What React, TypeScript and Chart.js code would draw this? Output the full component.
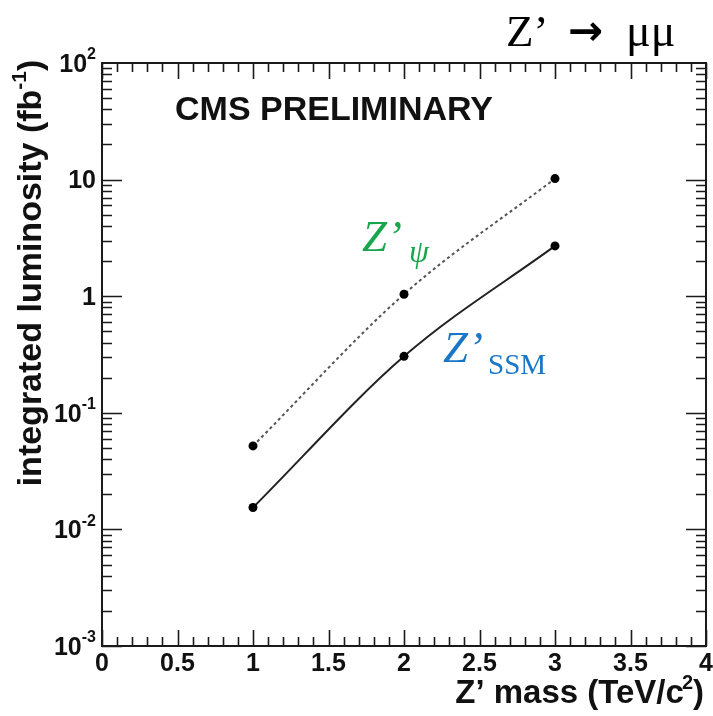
import React, { useEffect, useRef } from 'react';
import { Chart, registerables } from 'chart.js';

Chart.register(...registerables);

// Data
const massPoints = [1, 2, 3]; // TeV/c^2
const zPsiLumi = [0.052, 1.04, 10.2]; // fb^-1
const zSsmLumi = [0.0154, 0.305, 2.7]; // fb^-1

const xTickValues = [0, 0.5, 1, 1.5, 2, 2.5, 3, 3.5, 4];
const xTickLabels = ['0', '0.5', '1', '1.5', '2', '2.5', '3', '3.5', '4'];
const yDecadeExps = [-3, -2, -1, 0, 1, 2];
const yDecadeLabels: [string, string][] = [
  ['10', '-3'],
  ['10', '-2'],
  ['10', '-1'],
  ['1', ''],
  ['10', ''],
  ['10', '2'],
];

const SANS = '"Liberation Sans", Arial, Helvetica, sans-serif';
const SERIF = '"Liberation Serif", "Times New Roman", serif';

const framePlugin = {
  id: 'rootFrame',
  afterDraw(chart: any) {
    const ctx: CanvasRenderingContext2D = chart.ctx;
    const { left, right, top, bottom } = chart.chartArea;
    const xs = chart.scales.x;
    const ys = chart.scales.y;
    ctx.save();
    ctx.strokeStyle = '#1a1a1a';
    ctx.lineWidth = 2;
    ctx.strokeRect(left, top, right - left, bottom - top);

    // x ticks (bottom + mirrored top)
    ctx.lineWidth = 1.6;
    ctx.beginPath();
    for (let i = 0; i <= 40; i++) {
      const v = i / 10;
      const px = Math.round(xs.getPixelForValue(v)) + 0.5;
      const len = i % 5 === 0 ? 16 : 9;
      ctx.moveTo(px, bottom);
      ctx.lineTo(px, bottom - len);
      ctx.moveTo(px, top);
      ctx.lineTo(px, top + len);
    }
    // y ticks (left + mirrored right)
    for (let d = -3; d <= 1; d++) {
      for (let m = 1; m <= 9; m++) {
        const v = m * Math.pow(10, d);
        const py = Math.round(ys.getPixelForValue(v)) + 0.5;
        const len = m === 1 ? 20 : 10;
        ctx.moveTo(left, py);
        ctx.lineTo(left + len, py);
        ctx.moveTo(right, py);
        ctx.lineTo(right - len, py);
      }
    }
    ctx.stroke();

    // x tick labels
    ctx.fillStyle = '#111';
    ctx.font = `bold 25px ${SANS}`;
    ctx.textAlign = 'center';
    ctx.textBaseline = 'top';
    xTickValues.forEach((v, i) => {
      ctx.fillText(xTickLabels[i], xs.getPixelForValue(v), bottom + 6);
    });

    // y tick labels with superscripts
    ctx.textBaseline = 'middle';
    yDecadeExps.forEach((e, i) => {
      const py = ys.getPixelForValue(Math.pow(10, e));
      const [base, sup] = yDecadeLabels[i];
      const xr = left - 6;
      ctx.font = `bold 16px ${SANS}`;
      const sw = sup ? ctx.measureText(sup).width : 0;
      ctx.textAlign = 'right';
      ctx.font = `bold 25px ${SANS}`;
      ctx.fillText(base, xr - sw, py + 2);
      if (sup) {
        ctx.font = `bold 16px ${SANS}`;
        ctx.textAlign = 'left';
        ctx.fillText(sup, xr - sw, py - 8);
      }
    });

    // x axis title
    ctx.textAlign = 'left';
    ctx.textBaseline = 'alphabetic';
    const xt1 = 'Z\u2019 mass (TeV/c';
    const xsup = '2';
    const xt2 = ')';
    ctx.font = `bold 33px ${SANS}`;
    const w1 = ctx.measureText(xt1).width;
    const w3 = ctx.measureText(xt2).width;
    ctx.font = `bold 20px ${SANS}`;
    const w2 = ctx.measureText(xsup).width;
    const xstart = right - (w1 + w2 + w3);
    const xbase = 703;
    ctx.font = `bold 33px ${SANS}`;
    ctx.fillText(xt1, xstart, xbase);
    ctx.font = `bold 20px ${SANS}`;
    ctx.fillText(xsup, xstart + w1 - 2, xbase - 14);
    ctx.font = `bold 33px ${SANS}`;
    ctx.fillText(xt2, xstart + w1 + w2 - 2, xbase);

    // y axis title (rotated)
    ctx.save();
    ctx.translate(41, 0);
    ctx.rotate(-Math.PI / 2);
    const yt1 = 'integrated luminosity (fb';
    const ysup = '-1';
    const yt2 = ')';
    ctx.font = `bold 34px ${SANS}`;
    const a1 = ctx.measureText(yt1).width;
    const a3 = ctx.measureText(yt2).width;
    ctx.font = `bold 21px ${SANS}`;
    const a2 = ctx.measureText(ysup).width;
    const total = a1 + a2 + a3;
    const startAlong = -(273 + total / 2);
    ctx.font = `bold 34px ${SANS}`;
    ctx.fillText(yt1, startAlong, 0);
    ctx.font = `bold 21px ${SANS}`;
    ctx.fillText(ysup, startAlong + a1, -15);
    ctx.font = `bold 34px ${SANS}`;
    ctx.fillText(yt2, startAlong + a1 + a2, 0);
    ctx.restore();

    // CMS PRELIMINARY
    ctx.font = `bold 34px ${SANS}`;
    ctx.fillStyle = '#111';
    ctx.fillText('CMS PRELIMINARY', 175, 120);

    // Title top-right
    ctx.fillStyle = '#000';
    ctx.font = `45px ${SERIF}`;
    ctx.fillText('Z\u2019', 506, 46);
    ctx.font = `bold 42px "DejaVu Sans", sans-serif`;
    ctx.fillText('\u2192', 568, 45);
    ctx.font = `46px ${SERIF}`;
    ctx.fillText('\u03bc\u03bc', 626, 46);

    // Z'psi label (green)
    ctx.fillStyle = '#17a64b';
    ctx.font = `italic 45px ${SERIF}`;
    ctx.fillText('Z\u2019', 362, 251);
    ctx.font = `italic 32px ${SERIF}`;
    ctx.fillText('\u03c8', 409, 262);

    // Z'SSM label (blue)
    ctx.fillStyle = '#1a76c6';
    ctx.font = `italic 45px ${SERIF}`;
    ctx.fillText('Z\u2019', 443, 362);
    ctx.font = `29px ${SERIF}`;
    ctx.fillText('SSM', 488, 374);

    ctx.restore();
  },
};

export default function App() {
  const ref = useRef<HTMLCanvasElement | null>(null);
  useEffect(() => {
    if (!ref.current) return;
    const chart = new Chart(ref.current, {
      type: 'line',
      data: {
        datasets: [
          {
            label: "Z'psi",
            data: massPoints.map((m, i) => ({ x: m, y: zPsiLumi[i] })),
            borderColor: '#555',
            borderWidth: 2,
            borderDash: [3, 3],
            cubicInterpolationMode: 'monotone',
            pointRadius: 4.5,
            pointBackgroundColor: '#000',
            pointBorderColor: '#000',
            pointBorderWidth: 0,
          },
          {
            label: "Z'SSM",
            data: massPoints.map((m, i) => ({ x: m, y: zSsmLumi[i] })),
            borderColor: '#222',
            borderWidth: 2,
            cubicInterpolationMode: 'monotone',
            pointRadius: 4.5,
            pointBackgroundColor: '#000',
            pointBorderColor: '#000',
            pointBorderWidth: 0,
          },
        ],
      },
      options: {
        animation: false,
        responsive: false,
        layout: { padding: { left: 102, right: 7, top: 63, bottom: 70 } },
        plugins: { legend: { display: false }, tooltip: { enabled: false } },
        scales: {
          x: { type: 'linear', min: 0, max: 4, display: false },
          y: { type: 'logarithmic', min: 0.001, max: 100, display: false },
        },
      },
      plugins: [framePlugin],
    });
    return () => chart.destroy();
  }, []);
  return (
    <div style={{ position: 'absolute', left: 0, top: 0, width: 713, height: 716, background: '#fff' }}>
      <canvas ref={ref} width={713} height={716} />
    </div>
  );
}
